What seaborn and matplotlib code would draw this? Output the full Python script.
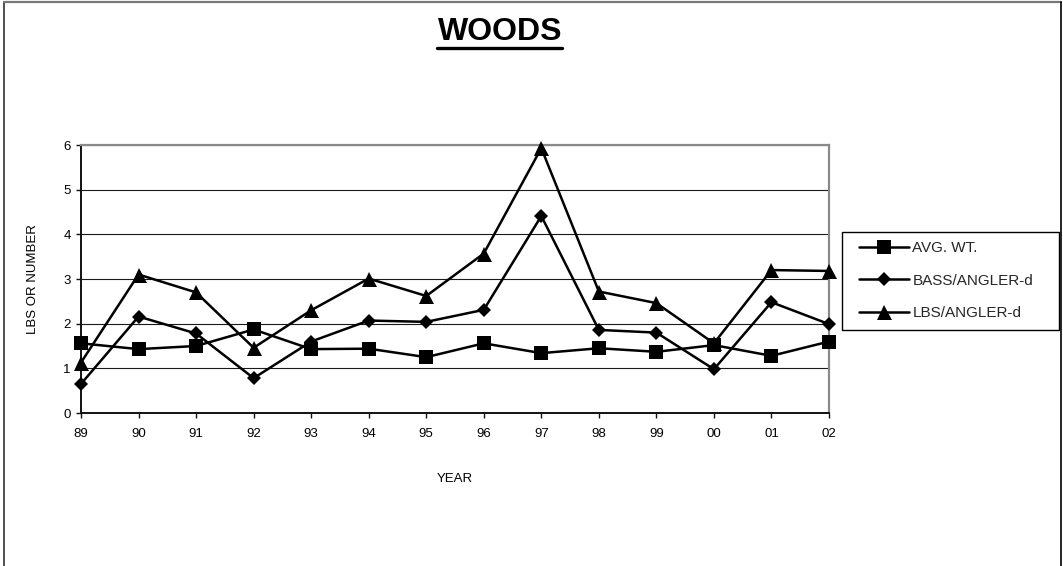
import matplotlib
matplotlib.use("Agg")
import matplotlib.pyplot as plt
from matplotlib.lines import Line2D
from matplotlib.patches import Rectangle
import seaborn as sns
import pandas as pd

# Survey data by year
years = ["89", "90", "91", "92", "93", "94", "95", "96", "97", "98", "99", "00", "01", "02"]
avg_wt = [1.56, 1.43, 1.50, 1.87, 1.43, 1.44, 1.25, 1.56, 1.34, 1.45, 1.37, 1.52, 1.28, 1.60]
bass_per_angler = [0.65, 2.16, 1.78, 0.78, 1.60, 2.07, 2.04, 2.31, 4.41, 1.86, 1.80, 0.98, 2.48, 1.99]
lbs_per_angler = [1.13, 3.10, 2.70, 1.46, 2.30, 3.01, 2.62, 3.57, 5.93, 2.72, 2.46, 1.56, 3.20, 3.18]
series_names = ["AVG. WT.", "BASS/ANGLER-d", "LBS/ANGLER-d"]
y_ticks = [0, 1, 2, 3, 4, 5, 6]

sns.set_theme(style="white")
plt.rcParams["font.family"] = ["Liberation Sans", "DejaVu Sans"]

W, H = 1063, 566
fig = plt.figure(figsize=(W / 100, H / 100), dpi=100)
ax = fig.add_axes([81 / W, 1 - 413 / H, (829 - 81) / W, (413 - 145) / H])

df = pd.DataFrame({
    "year": years * 3,
    "value": avg_wt + bass_per_angler + lbs_per_angler,
    "series": sum([[s] * len(years) for s in series_names], []),
})
df["pos"] = list(range(len(years))) * 3

marker_style = {
    "AVG. WT.": ("s", 10.3),
    "BASS/ANGLER-d": ("D", 7.4),
    "LBS/ANGLER-d": ("^", 10.8),
}

for name in series_names:
    sub = df[df["series"] == name]
    mk, ms = marker_style[name]
    sns.lineplot(data=sub, x="pos", y="value", ax=ax, color="black",
                 linewidth=1.8, marker=mk, markersize=ms,
                 markerfacecolor="black", markeredgecolor="black",
                 markeredgewidth=0, label=name, sort=False, clip_on=False,
                 zorder=3)

ax.set_xlim(0, len(years) - 1)
ax.set_ylim(0, 6)
ax.set_xticks(range(len(years)))
ax.set_xticklabels(years)
ax.set_yticks(y_ticks)
ax.set_yticklabels([str(t) for t in y_ticks])

ax.grid(axis="y", color="#1a1a1a", linewidth=0.8)
ax.grid(axis="x", visible=False)
ax.set_axisbelow(True)

for side in ["left", "bottom"]:
    ax.spines[side].set_color("#111111")
    ax.spines[side].set_linewidth(1.4)
for side in ["top", "right"]:
    ax.spines[side].set_color("#8a8a8a")
    ax.spines[side].set_linewidth(1.6)

ax.tick_params(axis="y", which="major", direction="out", length=3.5,
               width=1, color="#111111", labelsize=9.5, labelcolor="black",
               left=True, pad=4)
ax.tick_params(axis="x", which="major", direction="out", length=3.5,
               width=1, color="#111111", labelsize=9.5, labelcolor="black",
               bottom=True, pad=7)

ax.set_xlabel("YEAR", fontsize=9.5, color="black", labelpad=24)
ax.set_ylabel("LBS OR NUMBER", fontsize=9.5, color="black", labelpad=17)

# Title with underline
fig.text(500 / W, 1 - 40 / H, "WOODS", ha="center", va="baseline",
         fontsize=23, fontweight="bold", color="black")
fig.add_artist(Line2D([437 / W, 562 / W], [1 - 48 / H, 1 - 48 / H],
                      transform=fig.transFigure, color="black", linewidth=2.4))

# Legend entries, with a separate square frame around them
leg = ax.legend(loc="upper left", bbox_to_anchor=(859 / W, 1 - 241 / H),
                bbox_transform=fig.transFigure, borderaxespad=0, borderpad=0,
                fontsize=11, frameon=False, handlelength=3.3,
                handletextpad=0.2, labelspacing=1.22)
fig.add_artist(Rectangle((842 / W, 1 - 330 / H), (1059 - 842) / W, (330 - 232) / H,
                         transform=fig.transFigure, fill=False,
                         edgecolor="black", linewidth=1.0))

# Chart area border (open at the bottom)
fig.add_artist(Line2D([4 / W, 4 / W], [0, 1 - 2 / H], transform=fig.transFigure,
                      color="#333333", linewidth=1.2))
fig.add_artist(Line2D([4 / W, 1061 / W], [1 - 2 / H, 1 - 2 / H], transform=fig.transFigure,
                      color="#777777", linewidth=1.6))
fig.add_artist(Line2D([1061 / W, 1061 / W], [0, 1 - 2 / H], transform=fig.transFigure,
                      color="black", linewidth=1.2))

fig.savefig("out.png", dpi=100, facecolor="white")
